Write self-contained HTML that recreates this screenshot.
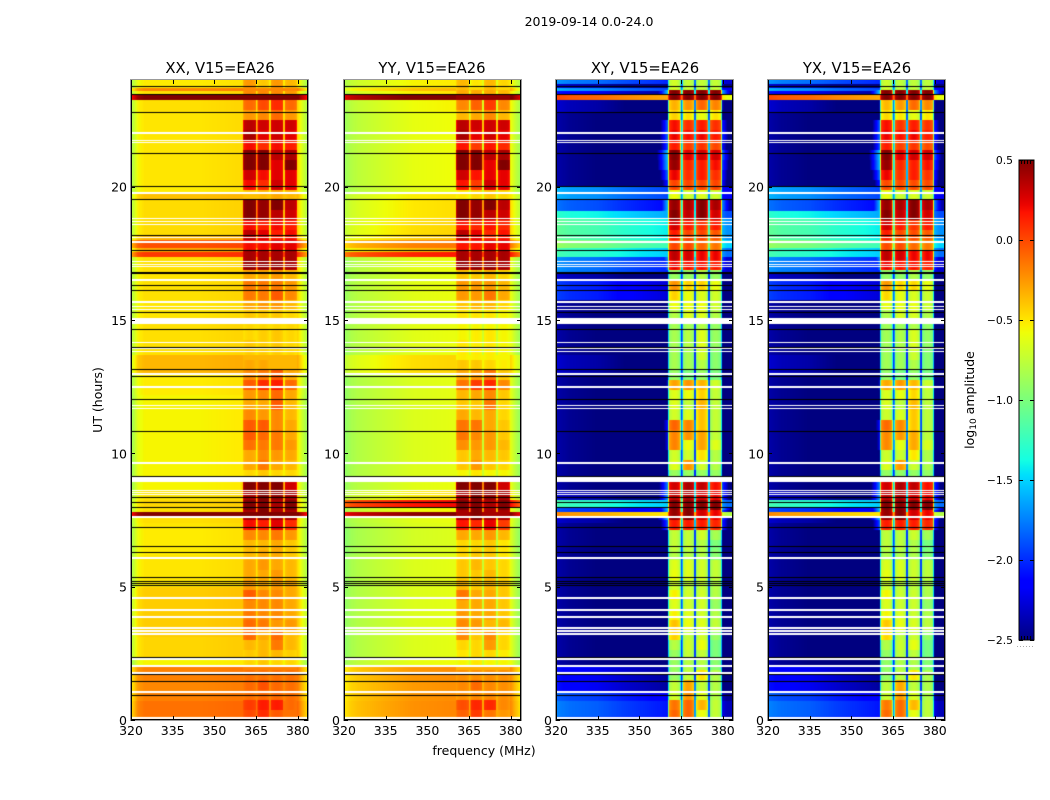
<!DOCTYPE html>
<html lang="en">
<head>
<meta charset="utf-8">
<title>2019-09-14 0.0-24.0</title>
<style>
html,body{margin:0;padding:0;background:#fff}
#stage{position:relative;width:1050px;height:800px;overflow:hidden;background:#fff}
#stage canvas{position:absolute;display:block}
#stage svg{position:absolute;left:0;top:0}
text{font-family:"DejaVu Sans","Liberation Sans",sans-serif;fill:#000}
</style>
</head>
<body>
<div id="stage">
<svg id="overlay" width="1050" height="800" viewBox="0 0 1050 800">
  <defs>
    <linearGradient id="jet-gradient" x1="0" y1="1" x2="0" y2="0"></linearGradient>
  </defs>
  <text x="589" y="26" font-size="12.5" text-anchor="middle">2019-09-14 0.0-24.0</text>
  <text x="220" y="73" font-size="14.8" text-anchor="middle">XX, V15=EA26</text>
  <text x="432" y="73" font-size="14.8" text-anchor="middle">YY, V15=EA26</text>
  <text x="645" y="73" font-size="14.8" text-anchor="middle">XY, V15=EA26</text>
  <text x="857" y="73" font-size="14.8" text-anchor="middle">YX, V15=EA26</text>
  <text x="484" y="755" font-size="12.5" text-anchor="middle">frequency (MHz)</text>
  <text transform="translate(102,400) rotate(-90)" font-size="12.5" text-anchor="middle">UT (hours)</text>
  <text transform="translate(974,400) rotate(-90)" font-size="12.5" text-anchor="middle">log<tspan dy="2" font-size="9">10</tspan><tspan dy="-2"> amplitude</tspan></text>
</svg>
</div>
<script>
// ---- chart data (log10 amplitude, UT hours, MHz) ----
// Out-of-band level per time band
const utStart = [0,.15,.7,1,1.5,2,2.35,3.1,4.1,5,6.2,7.2,7.4,7.62,7.8,8,8.25,8.6,9.1,10,11,12.2,13,13.7,15.1,15.75,16.45,16.8,17.35,17.55,17.7,18,18.2,18.8,19.1,19.5,19.75,20,20.45,20.8,21.25,21.7,22.05,22.4,22.8,23.25,23.45,23.6,23.7,23.85];
const xxBase = [-.15,-.13,-.18,-.2,-.18,-.55,-.45,-.42,-.42,-.5,-.52,-.5,-.48,.5,-.48,-.45,-.5,-.55,-.55,-.55,-.55,-.52,-.35,-.48,-.5,-.48,-.5,-.48,.05,-.3,-.02,-.35,-.47,-.47,-.47,-.38,-.52,-.5,-.5,-.5,-.5,-.5,-.5,-.5,-.48,.5,-.48,-.2,-.52,-.52];
const yyBase = [-.32,-.3,-.32,-.33,-.32,-.68,-.72,-.72,-.72,-.72,-.75,-.72,-.7,.4,-.65,.1,-.6,-.7,-.72,-.72,-.72,-.72,-.55,-.7,-.7,-.7,-.72,-.7,.05,-.45,-.25,-.5,-.55,-.58,-.58,-.6,-.7,-.68,-.68,-.68,-.68,-.68,-.68,-.68,-.65,.45,-.6,-.45,-.62,-.62];
const xyBase = [-1.9,-1.85,-1.95,-2.2,-2.2,-2.5,-2.5,-2.5,-2.5,-2.5,-2.5,-2.5,-2.4,-.3,-2,-1.3,-2.4,-2.5,-2.5,-2.5,-2.5,-2.5,-2.4,-2.5,-2.5,-2.05,-2.4,-1.8,-1.3,-1.3,-1,-1.2,-1.2,-1.4,-1.9,-1.7,-1.7,-2.5,-2.5,-2.5,-2.5,-2.5,-2.5,-2.5,-2.4,-.1,-2.2,-1.7,-2.4,-1.8];
const yxBase = [-1.9,-1.85,-1.95,-2.2,-2.2,-2.5,-2.5,-2.5,-2.5,-2.5,-2.5,-2.5,-2.4,-.3,-2,-1.3,-2.4,-2.5,-2.5,-2.5,-2.5,-2.5,-2.4,-2.5,-2.5,-2.05,-2.4,-1.8,-1.3,-1.3,-1,-1.2,-1.2,-1.4,-1.9,-1.7,-1.7,-2.5,-2.5,-2.5,-2.5,-2.5,-2.5,-2.5,-2.4,-.1,-2.2,-1.7,-2.4,-1.8];

// Block levels in the 360-380 MHz RFI region: 64 rows from 24 h downwards
const xxBlockA = [-.25,-.2,-.1,-.25,.35,.4,.2,.5,.5,.3,.2,-.4,.5,.5,.2,.35,.2,.4,.45,-.3,-.15,-.15,-.3,-.4,-.45,-.45,-.4,-.42,-.3,-.2,-.05,-.25,-.3,-.2,-.05,-.05,-.12,-.3,-.3,-.45,.5,.4,.5,.4,.2,-.2,-.35,-.35,-.3,-.3,-.25,-.05,-.2,-.15,-.1,-.1,-.35,-.4,-.45,-.12,-.1,-.12,.05,0];
const xxBlockB = [-.4,-.2,0,-.2,.3,.25,.1,.5,.5,.2,.1,-.35,.45,.45,.15,.25,.2,.4,.45,-.3,-.15,-.15,-.25,-.4,-.45,-.42,-.42,-.42,-.3,-.15,.1,-.2,-.3,-.25,-.05,-.1,-.15,-.2,-.15,-.4,.5,.5,.5,.5,.15,-.2,-.35,-.3,-.25,-.3,-.3,-.2,-.2,-.2,-.15,-.3,-.35,-.35,-.4,-.12,-.02,-.1,.15,.1];
const xxBlockC = [-.25,-.2,.1,-.1,.3,.3,.2,.35,.25,.25,.3,-.3,.5,.35,.2,.15,.25,.4,.45,-.25,-.15,-.05,-.25,-.4,-.45,-.4,-.4,-.42,-.35,-.05,.15,-.1,-.05,-.2,-.2,-.15,-.15,-.25,-.3,-.45,.5,.45,.4,.4,.25,-.15,-.3,-.3,-.3,-.25,-.25,-.2,-.2,-.2,-.25,-.1,-.15,-.35,-.45,-.12,-.1,-.1,.15,-.05];
const xxBlockD = [-.35,-.25,-.1,-.25,.3,.25,.15,.4,.5,.25,.25,-.35,.35,.3,.15,.2,.25,.4,.4,-.35,-.25,-.2,-.35,-.45,-.45,-.45,-.45,-.45,-.42,-.3,-.1,-.3,-.35,-.35,-.3,-.3,-.25,-.3,-.35,-.45,.3,.4,.5,.4,.1,-.25,-.4,-.4,-.35,-.35,-.3,-.3,-.3,-.3,-.25,-.35,-.35,-.42,-.45,-.12,-.12,-.12,-.1,-.15];
const xyBlockA = [-.8,.5,-.45,-.55,.15,.2,.1,.5,.45,.2,-.1,-.7,.45,.5,.3,.1,-.1,.35,.2,-1,-.35,-.55,-.7,-.9,-.95,-.95,-.95,-.95,-.95,-1,-.4,-.75,-.75,-.8,-.2,-.3,-.3,-.8,-.75,-1,.3,.35,.5,.45,.1,-.85,-.85,-.9,-.75,-.7,-.8,-.65,-.75,-.65,-.5,-.55,-.9,-1,-1,-1,-.85,-.8,-.25,-.2];
const xyBlockB = [-.85,.5,-.35,-.6,0,.15,-.05,.25,.05,0,-.1,-.8,.4,.35,.1,-.1,-.1,.3,.15,-1,-.55,-.7,-.7,-.75,-.95,-.9,-.9,-.95,-.95,-1.1,-.35,-.7,-.85,-.75,-.3,-.35,-.7,-.8,-.35,-1,.4,.4,.5,.5,.1,-.85,-.85,-.9,-.75,-.75,-.85,-.8,-.8,-.75,-.7,-.85,-.8,-.85,-.9,-.85,-.4,-.35,-.2,-.2];
const xyBlockC = [-.85,.5,-.2,-.7,.1,.2,0,.3,.1,.1,-.1,-.75,.5,.5,0,-.1,-.2,.2,.15,-.9,-.55,-.75,-.7,-.75,-.9,-.75,-.75,-.8,-.9,-1,-.45,-.55,-.45,-.5,-.5,-.4,-.4,-.6,-.8,-1,.35,.3,.5,.3,.1,-.8,-.9,-.9,-.8,-.8,-.85,-.8,-.8,-.8,-.75,-.8,-.7,-.85,-.9,-.6,-.85,-.75,-.45,-.7];
const xyBlockD = [-.85,.5,-.3,-.6,0,.1,-.1,.3,.15,0,-.1,-.8,.4,.3,.1,-.15,-.25,.2,.1,-1,-.7,-.8,-.8,-.9,-1,-1,-1,-1.05,-1.05,-1.1,-.8,-.85,-.85,-.85,-.85,-.85,-.75,-.9,-.9,-1,.15,.2,.5,.2,.05,-.95,-1.1,-1.05,-.85,-.85,-.9,-.9,-1,-.9,-.85,-1,-1.1,-1.1,-1.05,-.9,-.9,-.9,-.85,-.85];

const shapeFreq = [320,321,322.5,325,335,345,358,380,381.5,383.6];
const xxShape = [-.32,-.25,-.06,0,0,0,.03,.03,-.15,-.35];
const yyShape = [-.2,-.18,-.12,-.08,0,.07,.1,.1,-.04,-.2];
const xyShape = [.12,.1,.08,.05,0,-.1,-.2,-.4,-.5,-.5];
const yxShape = [.12,.1,.08,.05,0,-.1,-.2,-.4,-.5,-.5];

const rfiBlockStart = [360.3,365.4,370.2,375.2];
const rfiBlockEnd = [365,369.8,374.8,379.7];

const whiteFlagHours = [.04,.11,1.05,1.76,2.02,2.32,3.22,3.34,3.45,3.86,4.12,4.57,6.07,7.61,8.44,8.55,8.62,9.02,9.64,11.7,11.81,12.49,12.94,13.01,13.8,13.95,14.14,14.96,15.41,15.49,15.67,16.5,17.02,17.1,17.21,17.89,17.96,18.11,18.6,18.71,18.82,19.76,21.67,21.75,22.01];
const whiteFlagSpans = [.05,.05,.06,.06,.06,.12,.06,.08,.06,.06,.06,.07,.07,.06,.05,.05,.05,.19,.06,.05,.05,.06,.05,.05,.05,.05,.05,.22,.05,.05,.06,.06,.05,.05,.05,.05,.05,.05,.05,.05,.05,.06,.05,.05,.06];
const blackFlagHours = [.94,1.46,1.72,2.36,5.06,5.14,5.21,5.36,6.3,6.52,7.24,7.99,8.17,8.36,9.15,10.84,12.04,12.9,13.15,13.99,14.66,15.31,16.12,16.31,16.76,16.8,17.62,18.19,19.54,20.02,21.26,22.8,23.47,23.77];

const xTickValues = [320,335,350,365,380];
const yTickValues = [0,5,10,15,20];
const colorbarTickValues = [-2.5,-2,-1.5,-1,-.5,0,.5];

const panelKeys = ["xx","yy","xy","yx"];
const panelLeft = [131,344,556,768];
const panelBaseArrays = [xxBase,yyBase,xyBase,yxBase];
const panelBlockArrays = [
  [xxBlockA,xxBlockB,xxBlockC,xxBlockD],
  [xxBlockA,xxBlockB,xxBlockC,xxBlockD],
  [xyBlockA,xyBlockB,xyBlockC,xyBlockD],
  [xyBlockA,xyBlockB,xyBlockC,xyBlockD]
];
const panelWeakOffset = [0,-.1,.12,.1];
const panelShapes = [xxShape,yyShape,xyShape,yxShape];
const panelGapLevel = [-1.55,-1.55,-2,-2];
const panelGapSlope = [1,1,.45,.45];
const panelLeakDrop = [.9,1,2,2];
const panelLeakSlope = [.12,.12,.25,.25];
const panelProfile = [.05,.05,.2,.2];
const panelEdge = [.2,.2,.35,.35];
const BLOCK_ROW_HOURS = 24 / 64;

// ---- scales ----
const PANEL_W = 177, PANEL_H = 640, PANEL_TOP = 80;
const F_MIN = 320, F_MAX = 383.66, VMIN = -2.5, VMAX = .5;
const yScale = h => PANEL_H - h / 24 * PANEL_H;
const yInverse = y => (PANEL_H - y) / PANEL_H * 24;
const xScale = f => (f - F_MIN) / (F_MAX - F_MIN) * PANEL_W;
const xInverse = x => F_MIN + x / PANEL_W * (F_MAX - F_MIN);
const SVGNS = "http://www.w3.org/2000/svg";
const overlay = document.getElementById("overlay");
const stage = document.getElementById("stage");

function lerpTable(xs, ys, x) {
  if (x <= xs[0]) return ys[0];
  for (let i = 1; i < xs.length; i++) {
    if (x <= xs[i]) return ys[i-1] + (ys[i]-ys[i-1]) * (x-xs[i-1]) / (xs[i]-xs[i-1]);
  }
  return ys[ys.length-1];
}
const jetR = [[0,.35,.66,.89,1],[0,0,1,1,.5]];
const jetG = [[0,.125,.375,.64,.91,1],[0,0,1,1,0,0]];
const jetB = [[0,.11,.34,.65,1],[.5,1,1,0,0]];
function jet(v) {
  const t = Math.max(0, Math.min(1, (v - VMIN) / (VMAX - VMIN)));
  const c = a => Math.round(255 * lerpTable(a[0], a[1], t));
  return [c(jetR), c(jetG), c(jetB)];
}

function blockLevel(p, b, rfiRow) {
  const raw = panelBlockArrays[p][b][rfiRow];
  const weak = Math.max(0, Math.min(1, (.3 - raw) / .4));
  return raw + panelWeakOffset[p] * weak;
}
function cellValue(p, row, rfiRow, f) {
  const rowBase = panelBaseArrays[p][row];
  const base = rowBase + lerpTable(shapeFreq, panelShapes[p], f);
  const first = rfiBlockStart[0], last = rfiBlockEnd[rfiBlockEnd.length-1];
  if (f < first) {
    return Math.max(base, blockLevel(p, 0, rfiRow) - panelLeakDrop[p] - (first - f) * panelLeakSlope[p]);
  }
  if (f > last) {
    return Math.max(base, blockLevel(p, 3, rfiRow) - panelLeakDrop[p] - .1 - (f - last) * panelLeakSlope[p]);
  }
  for (let b = 0; b < rfiBlockStart.length; b++) {
    const s = rfiBlockStart[b], e = rfiBlockEnd[b];
    const nextS = b + 1 < rfiBlockStart.length ? rfiBlockStart[b+1] : Infinity;
    const lvl = blockLevel(p, b, rfiRow);
    const gap = Math.max(rowBase, panelGapLevel[p] + panelGapSlope[p] * (lvl + .85));
    if (f >= s && f <= e) {
      const u = (2 * f - s - e) / (e - s);
      const edge = Math.min(1, Math.min(f - s, e - f) / panelEdge[p]);
      const inner = lvl - panelProfile[p] * u * u;
      return Math.max(rowBase, gap + (inner - gap) * edge);
    }
    if (f > e && f < nextS) return gap;
  }
  return base;
}

// ---- heatmaps ----
panelKeys.forEach(function (key, p) {
  const cv = document.createElement("canvas");
  cv.width = PANEL_W;
  cv.height = PANEL_H;
  cv.style.left = panelLeft[p] + "px";
  cv.style.top = PANEL_TOP + "px";
  
  
  stage.insertBefore(cv, overlay);
  const ctx = cv.getContext("2d");
  const img = ctx.createImageData(PANEL_W, PANEL_H);
  for (let y = 0; y < PANEL_H; y++) {
    const h = yInverse(y + .5);
    let row = 0;
    while (row + 1 < utStart.length && utStart[row + 1] <= h) row++;
    const rfiRow = Math.min(63, Math.max(0, Math.floor((24 - h) / BLOCK_ROW_HOURS)));
    for (let x = 0; x < PANEL_W; x++) {
      const c = jet(cellValue(p, row, rfiRow, xInverse(x + .5)));
      const o = (y * PANEL_W + x) * 4;
      img.data[o] = c[0];
      img.data[o + 1] = c[1];
      img.data[o + 2] = c[2];
      img.data[o + 3] = 255;
    }
  }
  ctx.putImageData(img, 0, 0);
  ctx.fillStyle = "#fff";
  whiteFlagHours.forEach(function (h, i) {
    const hgt = Math.max(1, Math.round(whiteFlagSpans[i] / 24 * PANEL_H));
    ctx.fillRect(0, Math.round(yScale(h) - hgt / 2), PANEL_W, hgt);
  });
  ctx.fillStyle = "#000";
  blackFlagHours.forEach(function (h) {
    ctx.fillRect(0, Math.round(yScale(h)), PANEL_W, 1);
  });
});

// ---- axes ----
function addLine(parent, x1, y1, x2, y2, stroke) {
  const l = document.createElementNS(SVGNS, "line");
  l.setAttribute("x1", x1);
  l.setAttribute("y1", y1);
  l.setAttribute("x2", x2);
  l.setAttribute("y2", y2);
  l.setAttribute("stroke", stroke || "#000");
  l.setAttribute("stroke-width", "1");
  parent.appendChild(l);
  return l;
}
function addText(parent, x, y, str, size, anchor) {
  const t = document.createElementNS(SVGNS, "text");
  t.setAttribute("x", x);
  t.setAttribute("y", y);
  t.setAttribute("font-size", size);
  t.setAttribute("text-anchor", anchor);
  t.textContent = str;
  parent.appendChild(t);
  return t;
}
panelKeys.forEach(function (key, p) {
  const L = panelLeft[p], T = PANEL_TOP, g = document.createElementNS(SVGNS, "g");
  
  
  overlay.appendChild(g);
  const frame = document.createElementNS(SVGNS, "rect");
  frame.setAttribute("x", L - .5);
  frame.setAttribute("y", T - .5);
  frame.setAttribute("width", PANEL_W + 1);
  frame.setAttribute("height", PANEL_H + 1);
  frame.setAttribute("fill", "none");
  frame.setAttribute("stroke", "#999");
  
  
  g.appendChild(frame);
  addLine(g, L + .5, T, L + .5, T + PANEL_H);
  addLine(g, L + PANEL_W - .5, T, L + PANEL_W - .5, T + PANEL_H);
  addLine(g, L, T + PANEL_H - .5, L + PANEL_W, T + PANEL_H - .5);
  xTickValues.forEach(function (f) {
    const x = Math.round(L + xScale(f)) + .5;
    addLine(g, x, T + PANEL_H, x, T + PANEL_H - 4);
    addLine(g, x, T, x, T + 4);
    const lab = addText(g, L + xScale(f), T + PANEL_H + 15, String(f), 12.5, "middle");
    
    
  });
  yTickValues.forEach(function (h) {
    const y = Math.round(T + yScale(h)) + .5;
    addLine(g, L, y, L + 4, y);
    addLine(g, L + PANEL_W, y, L + PANEL_W - 4, y);
    const lab = addText(g, L - 4, T + yScale(h) + 5, String(h), 12.5, "end");
    
    
  });
});

// ---- colorbar ----
const CB_X = 1019, CB_W = 15, CB_TOP = 160, CB_H = 480;
const cbScale = v => CB_TOP + (VMAX - v) / (VMAX - VMIN) * CB_H;
const grad = document.getElementById("jet-gradient");
for (let i = 0; i <= 64; i++) {
  const s = document.createElementNS(SVGNS, "stop");
  s.setAttribute("offset", (i / 64 * 100) + "%");
  s.setAttribute("stop-color", "rgb(" + jet(VMIN + (VMAX - VMIN) * i / 64).join(",") + ")");
  grad.appendChild(s);
}
const cbGroup = document.createElementNS(SVGNS, "g");


overlay.appendChild(cbGroup);
const cbRect = document.createElementNS(SVGNS, "rect");
cbRect.setAttribute("x", CB_X);
cbRect.setAttribute("y", CB_TOP);
cbRect.setAttribute("width", CB_W);
cbRect.setAttribute("height", CB_H);
cbRect.setAttribute("fill", "url(#jet-gradient)");
cbRect.setAttribute("stroke", "#000");
cbRect.setAttribute("stroke-width", "1");


cbGroup.appendChild(cbRect);
colorbarTickValues.forEach(function (v) {
  const y = Math.round(cbScale(v)) + .5;
  addLine(cbGroup, CB_X, y, CB_X + 4, y);
  addLine(cbGroup, CB_X + CB_W, y, CB_X + CB_W - 4, y);
  const str = (v < 0 ? "\u2212" : "") + Math.abs(v).toFixed(1);
  const lab = addText(cbGroup, CB_X - 6, cbScale(v) + 4, str, 10.8, "end");
  
  
});
[2,5,8,11].forEach(function (o) {
  addLine(cbGroup, CB_X + o + .5, CB_TOP, CB_X + o + .5, CB_TOP + 4);
  addLine(cbGroup, CB_X + o + .5, CB_TOP + CB_H, CB_X + o + .5, CB_TOP + CB_H - 4);
});
const cbDots = addLine(cbGroup, 1017, 646.5, 1035, 646.5, "#aaa");
cbDots.setAttribute("stroke-dasharray", "1 2");


</script>
</body>
</html>
